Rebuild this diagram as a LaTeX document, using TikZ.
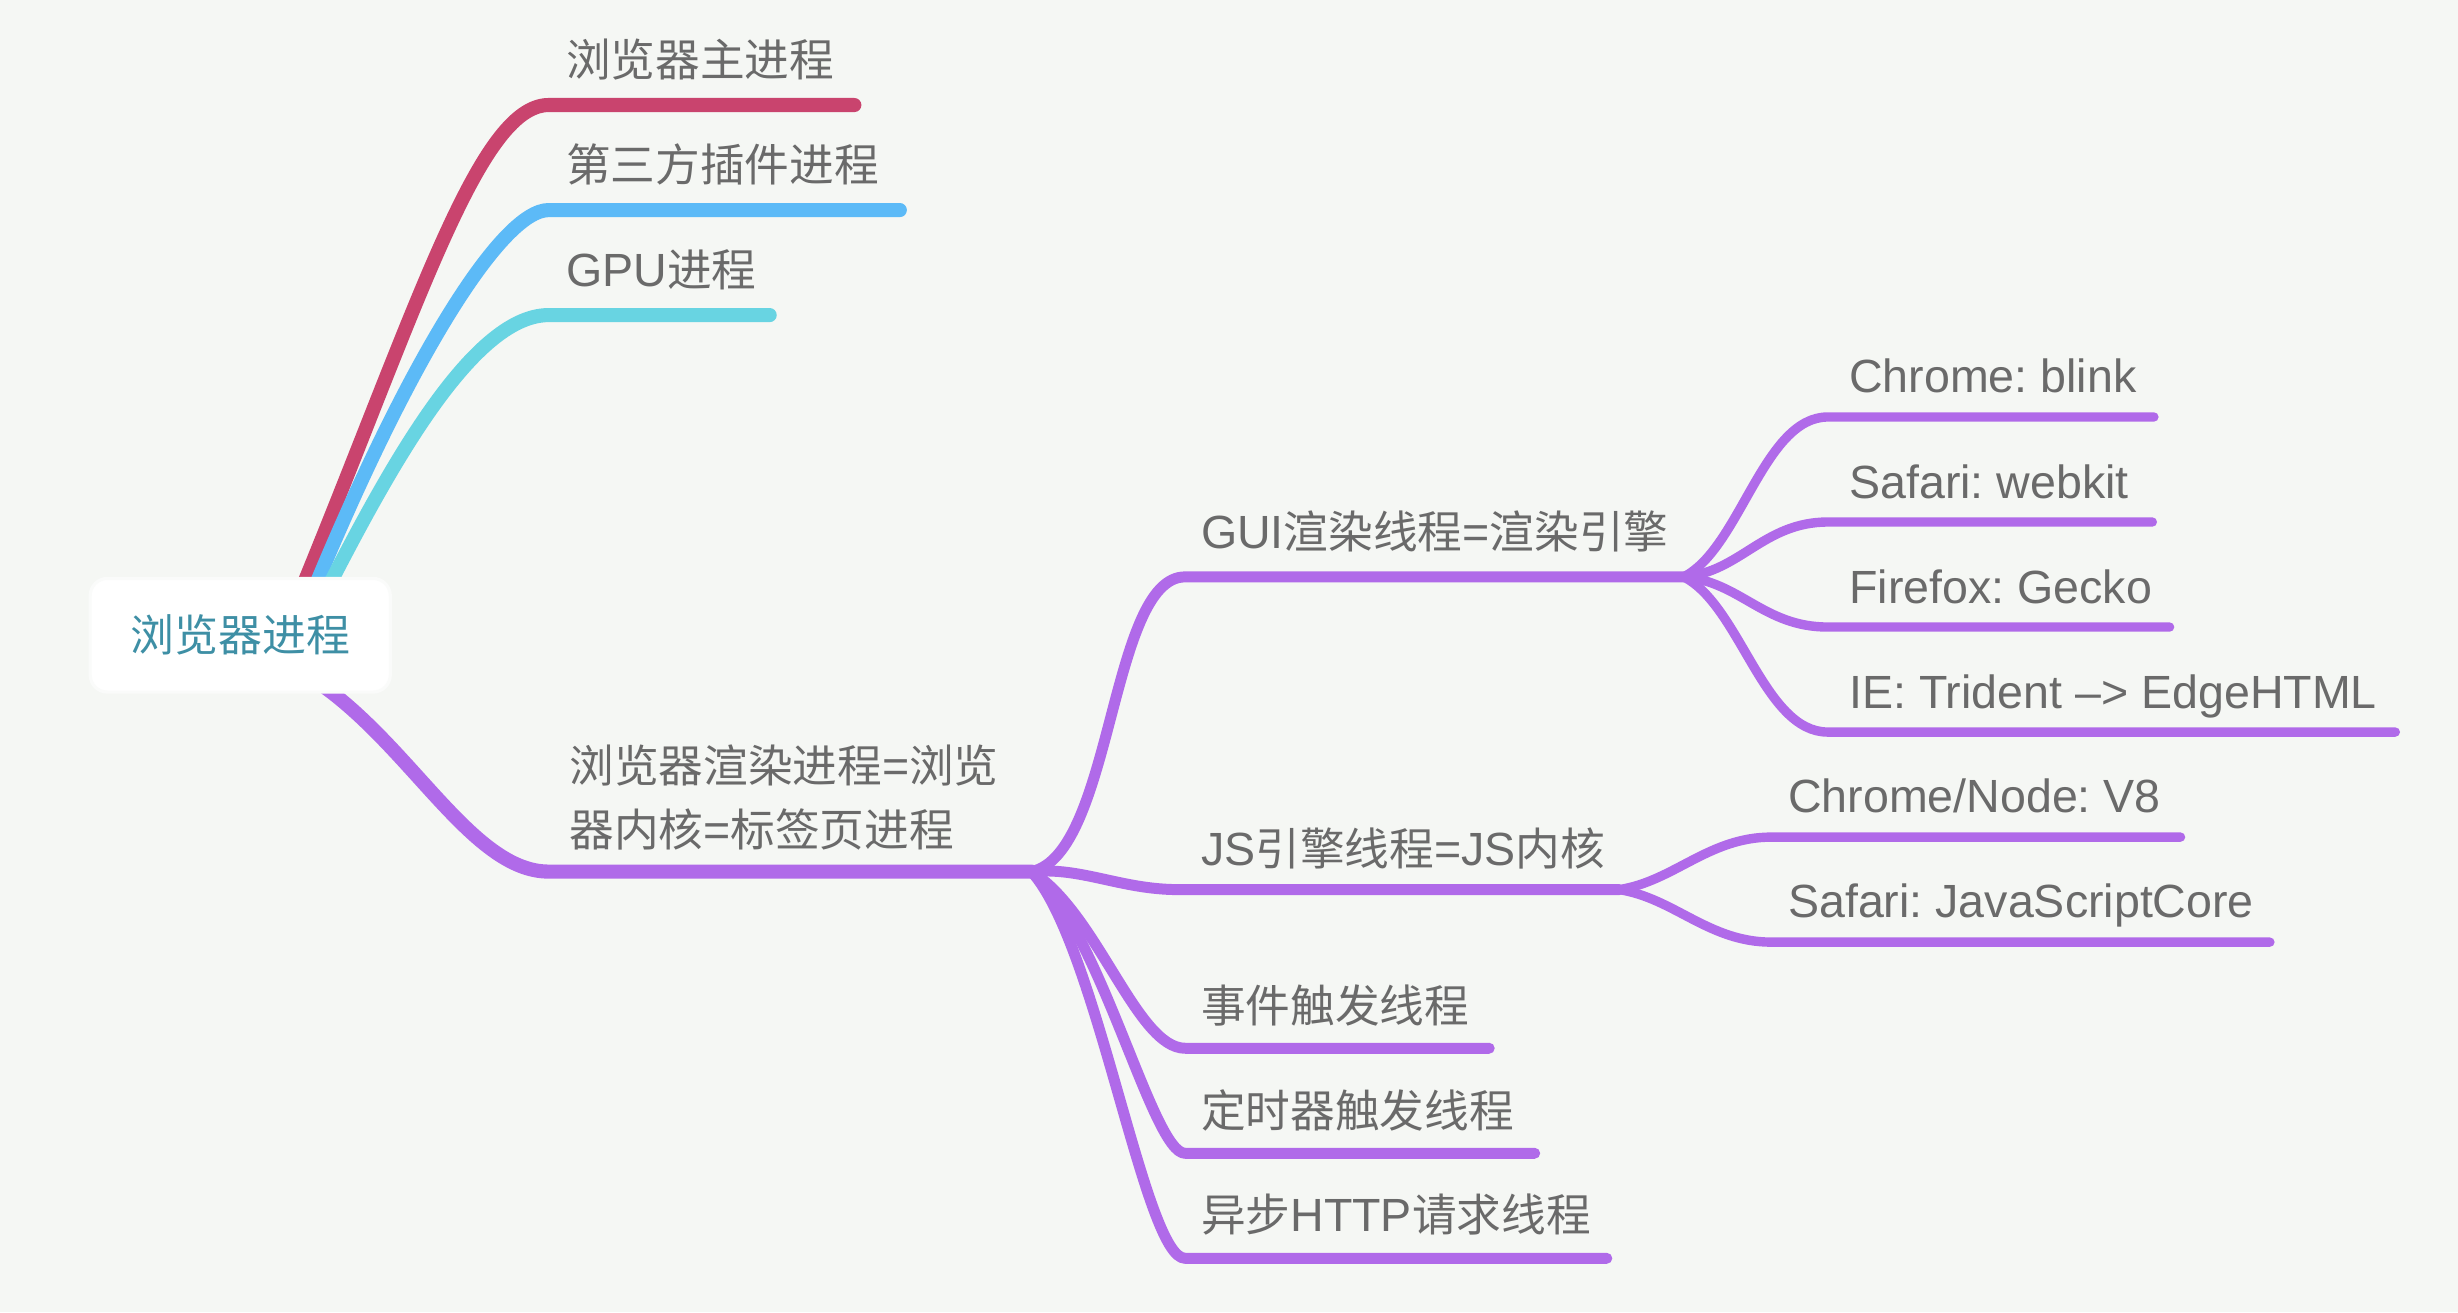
\documentclass[tikz,border=0pt]{standalone}
\usepackage{fontspec}
\newfontfamily\cjkf{Noto Sans CJK SC}
\newfontfamily\latf{Liberation Sans}
\newcommand\latx[1]{{\latf\fontsize{29.7}{34}\selectfont #1}}
\definecolor{bgc}{RGB}{245,247,244}
\definecolor{cred}{RGB}{201,68,110}
\definecolor{cblue}{RGB}{92,186,247}
\definecolor{ccyan}{RGB}{104,212,226}
\definecolor{cpur}{RGB}{176,106,233}
\definecolor{tgrey}{RGB}{106,106,106}
\definecolor{tteal}{RGB}{62,143,165}
\definecolor{rootedge}{RGB}{250,251,250}
\frenchspacing
\begin{document}
\begin{tikzpicture}[x=1pt,y=-1pt,line cap=round,line join=round,
  bA/.style={line width=9pt},
  bB/.style={line width=7pt},
  bC/.style={line width=6pt},
  lbl/.style={anchor=base west,inner sep=0pt,text=tgrey,font=\cjkf\fontsize{28.5}{34}\selectfont},
  lbll/.style={lbl,font=\latf\fontsize{29.7}{34}\selectfont},
  rootbox/.style={rounded corners=11pt,fill=white,draw=rootedge,line width=2pt,
    minimum width=191.5pt,minimum height=72.5pt,inner sep=0pt,text=tteal,
    font=\cjkf\fontsize{28}{34}\selectfont}]
\fill[bgc] (0,0) rectangle (1568,837);
\useasboundingbox (0,0) rectangle (1568,837);
% coordinates
\coordinate (rA) at (189,384);
\coordinate (rB) at (197,384);
\coordinate (rC) at (204.5,384);
\coordinate (rD) at (197,431.5);
\coordinate (e1s) at (350,67);  \coordinate (e1e) at (545,67);
\coordinate (e2s) at (350,134); \coordinate (e2e) at (574,134);
\coordinate (e3s) at (350,201); \coordinate (e3e) at (491,201);
\coordinate (e4s) at (350,556); \coordinate (hub) at (658,556);
\coordinate (gs) at (756,368);  \coordinate (ghub) at (1074,368);
\coordinate (jss) at (752,567.5); \coordinate (jhub) at (1033,567.5);
\coordinate (evs) at (756,668.7); \coordinate (eve) at (950,668.7);
\coordinate (tms) at (756,735.7); \coordinate (tme) at (979,735.7);
\coordinate (hts) at (756,802.7); \coordinate (hte) at (1025,802.7);
\coordinate (g1s) at (1166,266); \coordinate (g1e) at (1374,266);
\coordinate (g2s) at (1166,333); \coordinate (g2e) at (1373,333);
\coordinate (g3s) at (1166,400); \coordinate (g3e) at (1384,400);
\coordinate (g4s) at (1166,467); \coordinate (g4e) at (1528,467);
\coordinate (j1s) at (1130,534); \coordinate (j1e) at (1391,534);
\coordinate (j2s) at (1130,601); \coordinate (j2e) at (1448,601);
% level 1 branches
\draw[bA,cred]  (rA) .. controls (265,200) and (305,67) .. (e1s) -- (e1e);
\draw[bA,cblue] (rB) .. controls (260,230) and (320,134) .. (e2s) -- (e2e);
\draw[bA,ccyan] (rC) .. controls (245,305) and (300,201) .. (e3s) -- (e3e);
\draw[bA,cpur]  (rD) .. controls (260,471) and (300,556) .. (e4s) -- (hub);
% level 2 branches
\draw[bB,cpur] (hub) .. controls (710,545) and (708,368) .. (gs) -- (ghub);
\draw[bB,cpur] (hub) .. controls (690,553) and (715,567.5) .. (jss) -- (jhub);
\draw[bB,cpur] (hub) .. controls (700,582) and (725,668.7) .. (evs) -- (eve);
\draw[bB,cpur] (hub) .. controls (702,592) and (735,735.7) .. (tms) -- (tme);
\draw[bB,cpur] (hub) .. controls (700,602) and (730,802.7) .. (hts) -- (hte);
% level 3 branches
\draw[bC,cpur] (ghub) .. controls (1110,350) and (1125,266) .. (g1s) -- (g1e);
\draw[bC,cpur] (ghub) .. controls (1110,365) and (1125,333) .. (g2s) -- (g2e);
\draw[bC,cpur] (ghub) .. controls (1110,371) and (1125,400) .. (g3s) -- (g3e);
\draw[bC,cpur] (ghub) .. controls (1110,386) and (1125,467) .. (g4s) -- (g4e);
\draw[bC,cpur] (jhub) .. controls (1068,562) and (1090,534) .. (j1s) -- (j1e);
\draw[bC,cpur] (jhub) .. controls (1068,573) and (1090,601) .. (j2s) -- (j2e);
% root
\node[rootbox] (root) at (153.25,405.25) {浏览器进程};
% labels
\node[lbl] (t1) at (361,49) {浏览器主进程};
\node[lbl] (t2) at (361,116) {第三方插件进程};
\node[lbl] (t3) at (361,183) {\latx{GPU}进程};
\node[lbl] (t4a) at (363,499) {浏览器渲染进程\latx{=}浏览};
\node[lbl] (t4b) at (363,540) {器内核\latx{=}标签页进程};
\node[lbl] (t5) at (766,350) {\latx{GUI}渲染线程\latx{=}渲染引擎};
\node[lbl] (t6) at (766,552) {\latx{JS}引擎线程\latx{=JS}内核};
\node[lbl] (t7) at (766,652) {事件触发线程};
\node[lbl] (t8) at (766,719) {定时器触发线程};
\node[lbl] (t9) at (766,785.7) {异步\latx{HTTP}请求线程};
\node[lbll] (l1) at (1179.5,250.5) {Chrome: blink};
\node[lbll] (l2) at (1179.5,317.8) {Safari: webkit};
\node[lbll] (l3) at (1179.5,385) {Firefox: Gecko};
\node[lbll] (l4) at (1179.5,452) {IE: Trident –> EdgeHTML};
\node[lbll] (l5) at (1140.5,518.6) {Chrome/Node: V8};
\node[lbll] (l6) at (1140.5,585.6) {Safari: JavaScriptCore};
\end{tikzpicture}
\end{document}
